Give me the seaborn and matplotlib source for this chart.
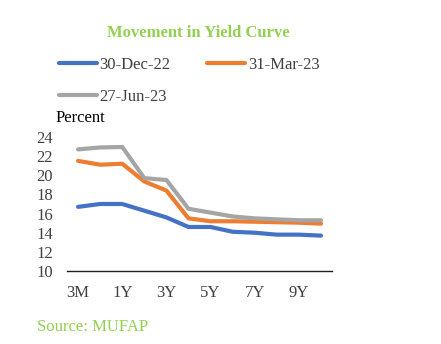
import matplotlib
matplotlib.use("Agg")
import matplotlib.pyplot as plt
import seaborn as sns
import pandas as pd
from matplotlib.lines import Line2D

tenors = ["3M", "6M", "1Y", "2Y", "3Y", "4Y", "5Y", "6Y", "7Y", "8Y", "9Y", "10Y"]
dec22 = [16.7, 17.0, 17.0, 16.3, 15.6, 14.6, 14.6, 14.1, 14.0, 13.8, 13.8, 13.7]
mar23 = [21.5, 21.1, 21.2, 19.35, 18.4, 15.5, 15.2, 15.2, 15.15, 15.1, 15.05, 14.95]
jun23 = [22.7, 22.9, 22.95, 19.7, 19.5, 16.5, 16.1, 15.7, 15.5, 15.4, 15.3, 15.3]
series_names = ["30-Dec-22", "31-Mar-23", "27-Jun-23"]
colors = ["#4472C4", "#ED7D31", "#A5A5A5"]
shown_ticks = ["3M", "1Y", "3Y", "5Y", "7Y", "9Y"]

rows = []
for name, vals in zip(series_names, [dec22, mar23, jun23]):
    for i, (t, v) in enumerate(zip(tenors, vals)):
        rows.append({"pos": i, "tenor": t, "value": v, "series": name})
df = pd.DataFrame(rows)

sns.set_theme(style="white")
plt.rcParams["font.family"] = ["Liberation Serif", "DejaVu Serif"]

fig = plt.figure(figsize=(4.41, 3.44), dpi=100)
ax = fig.add_axes([0.152, 0.212, 0.601, 0.390])

sns.lineplot(data=df, x="pos", y="value", hue="series", hue_order=series_names,
             palette=colors, linewidth=3.0, sort=False, ax=ax, legend=False)

ax.set_xlim(-0.5, len(tenors) - 0.5)
ax.set_ylim(10, 24)
ax.set_yticks(range(10, 25, 2))
ax.set_yticklabels([str(v) for v in range(10, 25, 2)], fontsize=12, color="#404040")
tick_pos = [tenors.index(t) for t in shown_ticks]
ax.set_xticks(tick_pos)
ax.set_xticklabels(shown_ticks, fontsize=12, color="#404040")
ax.tick_params(axis="y", length=0, pad=10)
ax.tick_params(axis="x", length=0, pad=10)
ax.set_xlabel("")
ax.set_ylabel("")
for s in ["top", "right", "left"]:
    ax.spines[s].set_visible(False)
ax.spines["bottom"].set_color("#202020")
ax.spines["bottom"].set_linewidth(1.0)
ax.grid(False)

fig.text(0.449, 0.905, "Movement in Yield Curve", ha="center", va="center",
         fontsize=12, fontweight="bold", color="#92D050")

handles = [Line2D([0], [0], color=c, lw=3.0, solid_capstyle="round") for c in colors]
order = [0, 2, 1]
fig.legend([handles[i] for i in order], [series_names[i] for i in order],
           loc="upper left", bbox_to_anchor=(0.133, 0.835),
           ncol=2, frameon=False, fontsize=12, handlelength=2.3, handletextpad=0.15,
           columnspacing=2.2, labelspacing=0.95, borderpad=0, borderaxespad=0,
           labelcolor="#404040")

fig.text(0.125, 0.657, "Percent", ha="left", va="center", fontsize=12, color="#000000")
fig.text(0.084, 0.049, "Source: MUFAP", ha="left", va="center", fontsize=12, color="#92D050")

fig.savefig("out.png", dpi=100)
